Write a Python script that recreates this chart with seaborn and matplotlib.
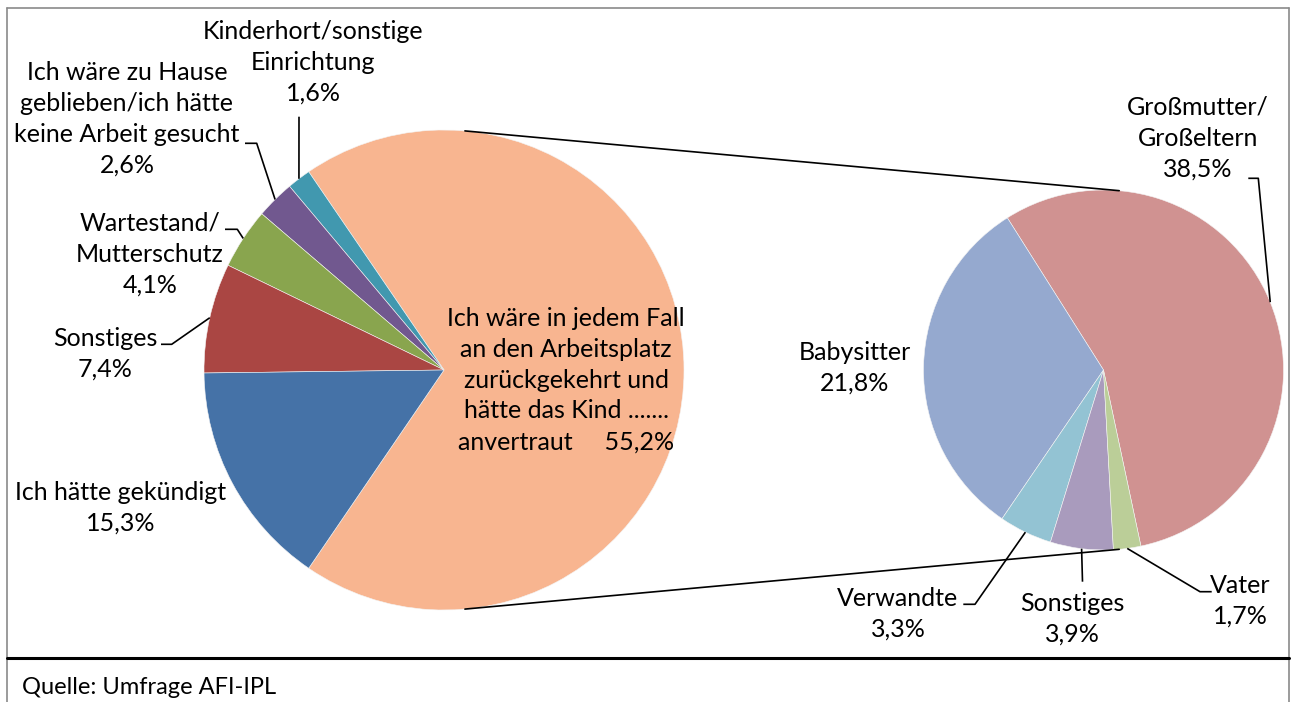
import numpy as np
import matplotlib
matplotlib.use("Agg")
import matplotlib.pyplot as plt
import seaborn as sns

# Data
left_labels = ["Ich hätte gekündigt", "Sonstiges", "Wartestand/\nMutterschutz",
               "Ich wäre zu Hause\ngeblieben/ich hätte\nkeine Arbeit gesucht",
               "Kinderhort/sonstige\nEinrichtung"]
left_values = [15.3, 7.4, 4.1, 2.6, 1.6]
left_colors = ["#4572A7", "#AA4643", "#89A54E", "#71588F", "#4198AF"]

main_label = "Ich wäre in jedem Fall\nan den Arbeitsplatz\nzurückgekehrt und\nhätte das Kind .......\nanvertraut"
main_pct_text = "55,2%"
main_color = "#F8B590"

right_labels = ["Großmutter/\nGroßeltern", "Babysitter", "Verwandte", "Sonstiges", "Vater"]
right_values = [38.5, 21.8, 3.3, 3.9, 1.7]
right_colors = ["#D09291", "#95A9CF", "#93C3D3", "#A99BBD", "#BBCE98"]

source_text = "Quelle: Umfrage AFI-IPL"

W, H = 1293, 702


def pct(v):
    return f"{v:.1f}".replace(".", ",") + "%"


def py(y):
    # pixel row -> data y
    return H - y


sns.set_theme(style="white")
plt.rcParams['font.family'] = ['Lato', 'DejaVu Sans']
FS = 18

fig = plt.figure(figsize=(W / 100, H / 100), dpi=100)
ax = fig.add_axes([0, 0, 1, 1])

# layout
L_CX, L_CY, L_R = 444, py(370), 240
R_CX, R_CY, R_R = 1103.5, py(370), 180

other_value = sum(right_values)
total = other_value + sum(left_values)
left_vals = [other_value] + left_values[::-1]
left_cols = [main_color] + left_colors[::-1]
left_start = -180 * other_value / total

wp = dict(linewidth=0.4, edgecolor="#f4f4f4")
lw_left, _ = ax.pie(left_vals, colors=left_cols, startangle=left_start,
                    center=(L_CX, L_CY), radius=L_R, frame=True, wedgeprops=wp)
lw_right, _ = ax.pie(right_values, colors=right_colors, startangle=-78,
                     center=(R_CX, R_CY), radius=R_R, frame=True, wedgeprops=wp)

# wedges for left categories in original order
left_wedges = lw_left[1:][::-1]


def edge_point(w, cx, cy, r):
    a = np.deg2rad((w.theta1 + w.theta2) / 2)
    return cx + r * np.cos(a), cy + r * np.sin(a)


def put_label(text, pos):
    ax.text(pos[0], py(pos[1]), text, ha="center", va="center",
            multialignment="center", fontsize=FS, linespacing=1.42, color="black")


def leader(start, pts):
    xs = [start[0]] + [p[0] for p in pts]
    ys = [start[1]] + [py(p[1]) for p in pts]
    ax.plot(xs, ys, color="black", lw=1.2, solid_capstyle="butt")


left_text_pos = [(121, 508), (105, 354), (150, 254), (127, 119), (313, 62)]
left_leaders = [None,
                [(171.7, 344.3), (161, 344.3)],
                [(237.3, 229.3), (225, 229.3)],
                [(256.7, 143.3), (245, 143.3)],
                [(299, 116.7)]]
for lab, v, w, pos, ld in zip(left_labels, left_values, left_wedges, left_text_pos, left_leaders):
    put_label(f"{lab}\n{pct(v)}", pos)
    if ld:
        leader(edge_point(w, L_CX, L_CY, L_R), ld)

right_text_pos = [(1198, 138), (855, 368), (898, 614), (1072, 619), (1240, 601)]
right_leaders = [[(1258.3, 178.3), (1248.3, 178.3)],
                 None,
                 [(975, 604.3), (963.3, 604.3)],
                 [(1082.5, 581.7)],
                 [(1200, 591.7), (1211.7, 591.7)]]
for lab, v, w, pos, ld in zip(right_labels, right_values, lw_right, right_text_pos, right_leaders):
    put_label(f"{lab}\n{pct(v)}", pos)
    if ld:
        leader(edge_point(w, R_CX, R_CY, R_R), ld)

put_label(main_label + "     " + main_pct_text, (566, 380))

# connector lines between the two pies
for s in (1, -1):
    a = np.deg2rad(85 * s)
    ax.plot([L_CX + L_R * np.cos(a), R_CX + R_R * np.cos(a)],
            [L_CY + L_R * np.sin(a), R_CY + R_R * np.sin(a)],
            color="black", lw=1.2)

# frame
gray = "#8a8a8a"
ax.plot([7, 1289], [py(8), py(8)], color=gray, lw=1.2)
ax.plot([7, 7], [py(8), 0], color=gray, lw=1.2)
ax.plot([1289, 1289], [py(8), 0], color=gray, lw=1.2)
ax.plot([7, 1289], [py(657.5), py(657.5)], color="black", lw=2.2)

ax.text(22, py(688), source_text, ha="left", va="center", fontsize=17, color="black")

ax.set_xlim(0, W)
ax.set_ylim(0, H)
ax.set_aspect("equal")
ax.axis("off")

fig.savefig("out.png", dpi=100, facecolor="white")
